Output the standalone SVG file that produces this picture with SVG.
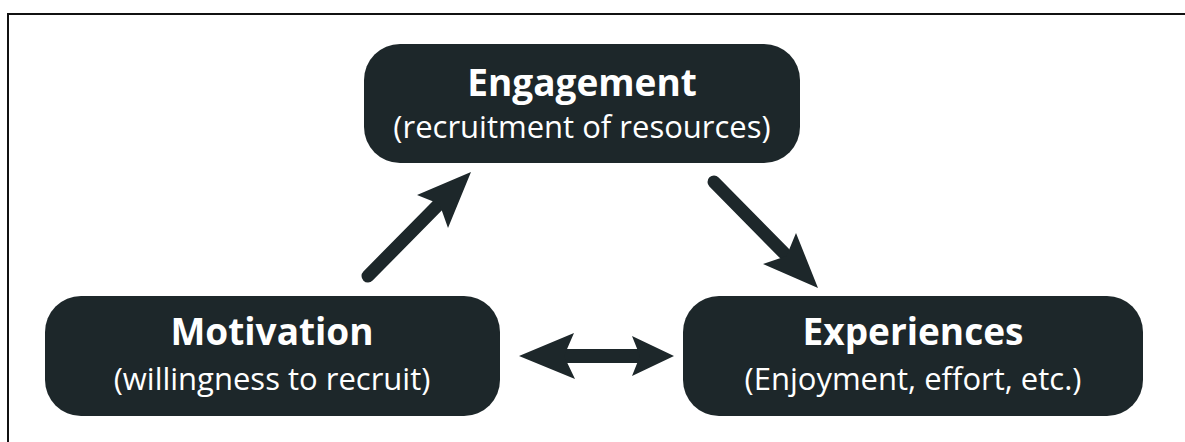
<svg xmlns="http://www.w3.org/2000/svg" width="1185" height="442" viewBox="0 0 1185 442">
<style>
.box{fill:#1d272a}
.t{font-family:"Open Sans","Liberation Sans",sans-serif;fill:#ffffff;text-anchor:middle}
.b{font-weight:bold;font-size:37px}
.s{font-size:31px}
.ln{stroke:#1d272a;stroke-width:13;stroke-linecap:round;fill:none}
.hd{fill:#1d272a}
</style>
<rect x="0" y="0" width="1185" height="442" fill="#ffffff"/>
<rect x="8" y="14" width="1200" height="500" fill="none" stroke="#111111" stroke-width="2"/>
<g id="engagement">
<rect class="box" x="364" y="44" width="436" height="119" rx="36"/>
<text class="t b" x="582" y="96">Engagement</text>
<text class="t s" x="582" y="138">(recruitment of resources)</text>
</g>
<g id="motivation">
<rect class="box" x="45" y="296" width="455" height="120" rx="36"/>
<text class="t b" x="272" y="345">Motivation</text>
<text class="t s" x="272" y="390">(willingness to recruit)</text>
</g>
<g id="experiences">
<rect class="box" x="683" y="296" width="460" height="120" rx="36"/>
<text class="t b" x="913" y="345">Experiences</text>
<text class="t s" x="913" y="390">(Enjoyment, effort, etc.)</text>
</g>
<g id="connectors">
<line class="ln" x1="368" y1="276" x2="442" y2="201"/>
<polygon class="hd" points="471,172 448,228 439.5,204 417,195"/>
<line class="ln" x1="714" y1="182" x2="784" y2="253"/>
<polygon class="hd" points="818,288 763,264 786.5,256 796,233"/>
<line x1="560" y1="356" x2="640" y2="356" stroke="#1d272a" stroke-width="14"/>
<polygon class="hd" points="519,356 574,333 564,356 575,379"/>
<polygon class="hd" points="674,356 632,336 640,356 632,376"/>
</g>
</svg>
